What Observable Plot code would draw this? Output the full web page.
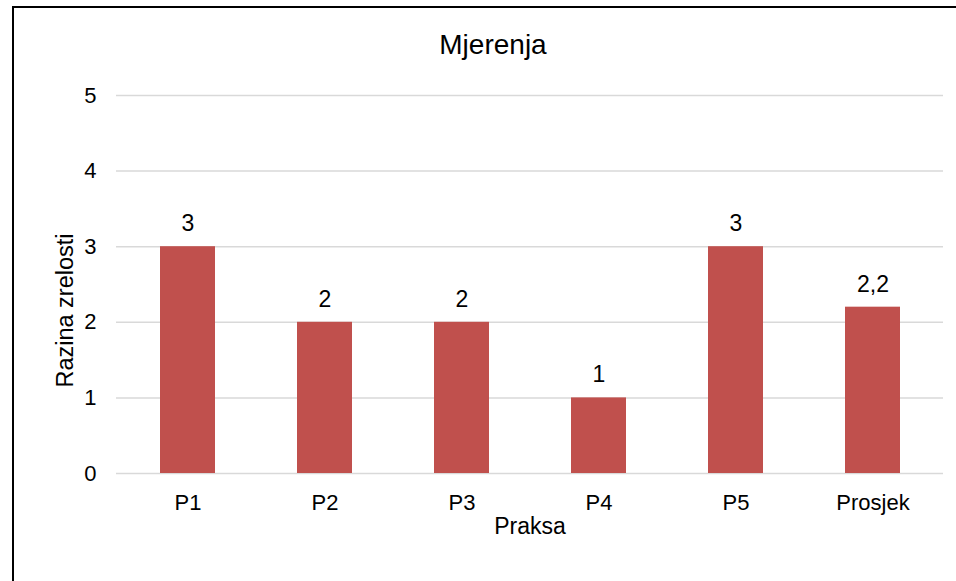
<!DOCTYPE html>
<html>
<head>
<meta charset="utf-8">
<script src="https://cdn.jsdelivr.net/npm/d3@7"></script>
<script src="https://cdn.jsdelivr.net/npm/@observablehq/plot@0.6"></script>
<style>
  html, body { margin: 0; padding: 0; background: #fff; width: 956px; height: 581px; overflow: hidden; }
  body { font-family: "Liberation Sans", Arial, sans-serif; position: relative; }
  #frame { position: absolute; left: 12px; top: 6px; width: 2000px; height: 2000px;
           border-left: 2px solid #000; border-top: 2px solid #000; box-sizing: border-box; }
  #chart { position: absolute; left: 0; top: 0; width: 956px; }
  #title { height: 70px; position: relative; }
  #title span { position: absolute; left: 0; width: 986px; text-align: center; top: 29px;
                font-size: 28px; line-height: 32px; color: #000; }
</style>
</head>
<body>
<div id="frame"></div>
<div id="chart">
  <div id="title"><span>Mjerenja</span></div>
</div>
<script>
const categories = ["P1", "P2", "P3", "P4", "P5", "Prosjek"];
const values = [3, 2, 2, 1, 3, 2.2];
const yTicks = [0, 1, 2, 3, 4, 5];
const xTitle = "Praksa";
const yTitle = "Razina zrelosti";

const fmt = v => String(v).replace(".", ",");
const data = categories.map((c, i) => ({cat: c, val: values[i], label: fmt(values[i])}));

const plot = Plot.plot({
  width: 956,
  height: 511,
  marginTop: 25,
  marginBottom: 108,
  marginLeft: 116,
  marginRight: 13,
  style: {fontFamily: "'Liberation Sans', Arial, sans-serif", fontSize: "22px", color: "#000", background: "transparent"},
  x: {domain: categories, paddingInner: 0.6, paddingOuter: 0.3, label: null},
  y: {domain: [0, 5], label: null},
  marks: [
    Plot.gridY(yTicks, {stroke: "#d9d9d9", strokeOpacity: 1, strokeWidth: 1.5}),
    Plot.barY(data, {x: "cat", y: "val", fill: "#c0504d"}),
    Plot.text(data, {x: "cat", y: "val", text: "label", dy: -23, fontSize: 23, fill: "#000"}),
    Plot.axisX({tickSize: 0, tickPadding: 21, label: null, fontSize: 22}),
    Plot.axisY(yTicks, {tickSize: 0, tickPadding: 20, label: null, fontSize: 22, tickFormat: d => String(d)}),
    Plot.text([xTitle], {frameAnchor: "bottom", dy: 60, fontSize: 23, fill: "#000"}),
    Plot.text([yTitle], {frameAnchor: "left", textAnchor: "middle", dx: -51, dy: 26, rotate: -90, fontSize: 23.5, fill: "#000"})
  ]
});
document.getElementById("chart").appendChild(plot);
</script>
</body>
</html>
